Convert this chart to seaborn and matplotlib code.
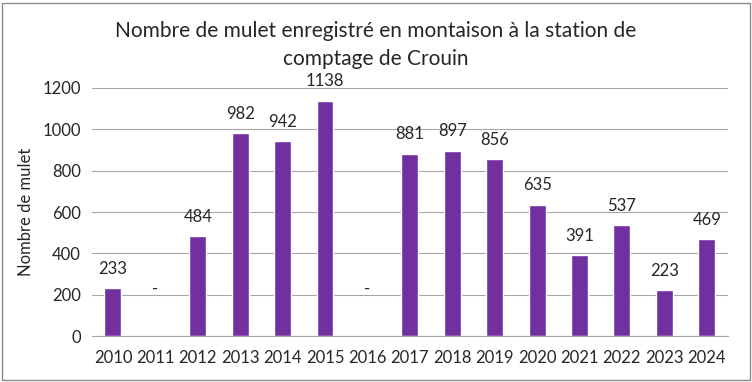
import numpy as np
import pandas as pd
import matplotlib.pyplot as plt
import seaborn as sns
from matplotlib.patches import Rectangle

years = [str(y) for y in range(2010, 2025)]
counts = [233, np.nan, 484, 982, 942, 1138, np.nan, 881, 897, 856, 635, 391, 537, 223, 469]

df = pd.DataFrame({'Année': years, 'Mulets': counts})

sns.set_style("white")
plt.rcParams['font.family'] = ['Lato', 'DejaVu Sans']
plt.rcParams['font.size'] = 12

fig = plt.figure(figsize=(7.52, 3.82), dpi=100)
ax = fig.add_axes([0.122, 0.12, 0.846, 0.65])

sns.barplot(data=df, x='Année', y='Mulets', color='#7030A0', width=0.4,
            saturation=1, ax=ax)

# étiquettes de valeur
for i, v in enumerate(counts):
    if np.isnan(v):
        ax.annotate('-', (i, 0), xytext=(0, 34), textcoords='offset points',
                    ha='center', va='center', fontsize=12)
    else:
        ax.annotate(f'{int(v)}', (i, v), xytext=(0, 14), textcoords='offset points',
                    ha='center', va='center', fontsize=12)

ax.set_ylim(0, 1200)
ax.set_yticks(range(0, 1201, 200))
ax.set_xlim(-0.5, len(years) - 0.5)
ax.yaxis.grid(True, color='#A6A6A6', linewidth=0.8)
ax.set_axisbelow(True)
ax.set_xlabel('')
ax.set_ylabel('Nombre de mulet', fontsize=12, labelpad=6)

for s in ['top', 'right', 'left']:
    ax.spines[s].set_visible(False)
ax.spines['bottom'].set_color('#A6A6A6')

ax.set_xticks(np.arange(-0.5, len(years), 1), minor=True)
ax.tick_params(axis='x', which='major', length=0, labelsize=12, pad=10)
ax.tick_params(axis='x', which='minor', length=5, color='#A6A6A6', direction='out')
ax.tick_params(axis='y', length=4, color='#A6A6A6', labelsize=12, pad=4)

fig.text(0.5, 0.882, "Nombre de mulet enregistré en montaison à la station de\ncomptage de Crouin",
         ha='center', va='center', fontsize=15, linespacing=1.45)

fig.patches.append(Rectangle((0.003, 0.005), 0.994, 0.988, transform=fig.transFigure,
                             fill=False, edgecolor='#8C8C8C', linewidth=1))

plt.savefig('out.png', dpi=100)
